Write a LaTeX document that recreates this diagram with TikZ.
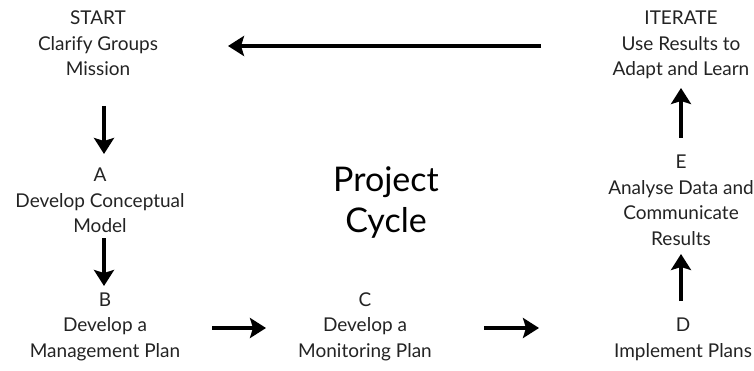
\documentclass[tikz,border=0pt]{standalone}
\usepackage{fontspec}
\setmainfont{Lato}
\usetikzlibrary{arrows.meta}
\definecolor{txt}{RGB}{35,35,35}
\begin{document}
\begin{tikzpicture}[x=1pt,y=-1pt,
  lbl/.style={align=center,anchor=base,inner sep=0pt,text=txt,
    font=\fontsize{19}{25.5}\selectfont},
  title/.style={align=center,anchor=base,inner sep=0pt,text=black,
    font=\fontsize{34}{41}\selectfont},
  flow/.style={line width=4pt,-{Stealth[length=16pt,width=20pt,inset=3pt]}}]
\useasboundingbox (0,0) rectangle (754,371);
\node[lbl] (start) at (98,76) {START\\Clarify Groups\\Mission};
\node[lbl] (iter) at (681,76) {ITERATE\\Use Results to\\Adapt and Learn};
\node[lbl] (a) at (100,233) {A\\Develop Conceptual\\Model};
\node[lbl] (b) at (105,357) {B\\Develop a\\Management Plan};
\node[lbl] (c) at (365,357) {C\\Develop a\\Monitoring Plan};
\node[lbl] (d) at (683,357) {D\\Implement Plans};
\node[lbl] (e) at (681,245) {E\\Analyse Data and\\Communicate\\Results};
\node[title] (pc) at (386,233) {Project\\Cycle};
\coordinate (t1) at (541,46);  \coordinate (t2) at (228,46);
\coordinate (s1) at (104,106); \coordinate (s2) at (104,154);
\coordinate (a1) at (104,238); \coordinate (a2) at (104,286);
\coordinate (b1) at (212,328); \coordinate (b2) at (266,328);
\coordinate (c1) at (484,328); \coordinate (c2) at (539,328);
\coordinate (d1) at (681,301); \coordinate (d2) at (681,254);
\coordinate (e1) at (681,138); \coordinate (e2) at (681,88);
\draw[flow] (t1) -- (t2);
\draw[flow] (s1) -- (s2);
\draw[flow] (a1) -- (a2);
\draw[flow] (b1) -- (b2);
\draw[flow] (c1) -- (c2);
\draw[flow] (d1) -- (d2);
\draw[flow] (e1) -- (e2);
\end{tikzpicture}
\end{document}
